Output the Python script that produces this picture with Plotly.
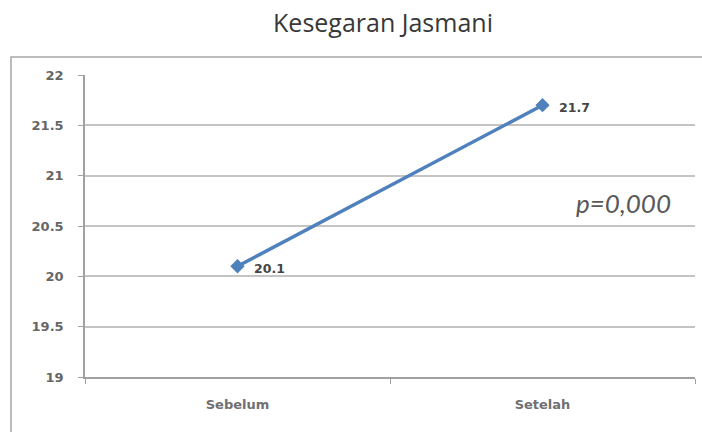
import plotly.graph_objects as go

# Chart data
categories = ["Sebelum", "Setelah"]
values = [20.1, 21.7]
y_ticks = [19, 19.5, 20, 20.5, 21, 21.5, 22]
y_tick_labels = ["19", "19.5", "20", "20.5", "21", "21.5", "22"]
title_text = "Kesegaran Jasmani"
p_text = "p=0,000"

W, H = 702, 432
ML, MR, MT, MB = 85, 7, 75, 55
PW, PH = W - ML - MR, H - MT - MB


def px_to_paper_x(px):
    return (px - ML) / PW


def px_to_paper_y(py):
    return (H - MB - py) / PH


fig = go.Figure()
fig.add_trace(go.Scatter(
    x=categories,
    y=values,
    mode="lines+markers",
    line=dict(color="#4F81BD", width=3.5),
    marker=dict(symbol="diamond", size=11, color="#4F81BD"),
    showlegend=False,
    hoverinfo="x+y",
))

annotations = []
for c, v in zip(categories, values):
    annotations.append(dict(
        x=c, y=v, xref="x", yref="y",
        text=f"{v:.1f}", showarrow=False,
        xanchor="left", yanchor="middle", xshift=14, yshift=-2,
        font=dict(family="DejaVu Sans", size=12.5, color="#454545", weight="bold"),
    ))

annotations.append(dict(
    x=px_to_paper_x(673), y=px_to_paper_y(203), xref="paper", yref="paper",
    text=f"<i>{p_text}</i>", showarrow=False,
    xanchor="right", yanchor="middle",
    font=dict(family="Lato", size=26, color="#595959"),
))

fig.update_layout(
    width=W, height=H,
    margin=dict(l=ML, r=MR, t=MT, b=MB),
    paper_bgcolor="white", plot_bgcolor="white",
    title=dict(
        text=title_text, x=383 / W, xanchor="center",
        y=1 - 23 / H, yanchor="middle",
        font=dict(family="Open Sans", size=25, color="#383838"),
    ),
    annotations=annotations,
    shapes=[dict(
        type="rect", xref="paper", yref="paper",
        x0=px_to_paper_x(11), x1=px_to_paper_x(704),
        y0=px_to_paper_y(436), y1=px_to_paper_y(57),
        line=dict(color="#a6a6a6", width=1.5), fillcolor="rgba(0,0,0,0)",
        layer="below",
    )],
)

fig.update_xaxes(
    type="category", range=[-0.5, 1.5],
    tickson="boundaries", ticks="outside", ticklen=5, tickcolor="#a0a0a0",
    ticklabelstandoff=15,
    showline=True, linecolor="#a0a0a0", linewidth=1.5,
    showgrid=False, zeroline=False,
    tickfont=dict(family="DejaVu Sans", size=13, color="#707070", weight="bold"),
)
fig.update_yaxes(
    range=[19, 22], tickvals=y_ticks, ticktext=y_tick_labels,
    ticks="outside", ticklen=5, tickcolor="#a0a0a0",
    ticklabelstandoff=12,
    showline=True, linecolor="#a0a0a0", linewidth=1.5,
    showgrid=True, gridcolor="#c4c4c4", gridwidth=1.5, zeroline=False,
    tickfont=dict(family="DejaVu Sans", size=13, color="#666666", weight="bold"),
)

fig.write_html("out.html")
